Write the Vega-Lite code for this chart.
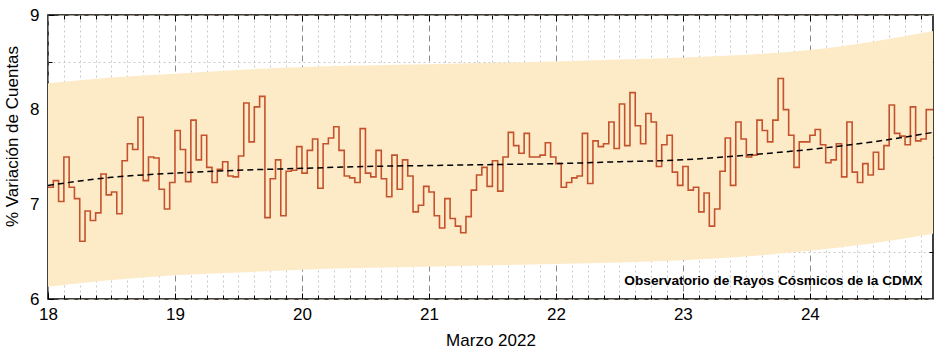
{
  "$schema": "https://vega.github.io/schema/vega-lite/v6.json",
  "width": 885,
  "height": 284,
  "autosize": "none",
  "padding": {"left": 48, "top": 15, "right": 6, "bottom": 53},
  "background": "white",
  "config": {
    "view": {"stroke": "black", "strokeWidth": 1.5},
    "axis": {
      "labelFont": "Liberation Sans",
      "titleFont": "Liberation Sans",
      "labelColor": "black",
      "titleColor": "black",
      "labelFontSize": 17,
      "titleFontSize": 17,
      "titleFontWeight": "normal",
      "domain": false,
      "tickColor": "black",
      "zindex": 1
    }
  },
  "datasets": {
    "band": [
      {"t": 18.0, "lo": 6.13, "hi": 8.28},
      {"t": 18.5, "lo": 6.2, "hi": 8.34},
      {"t": 19.0, "lo": 6.25, "hi": 8.38},
      {"t": 19.5, "lo": 6.28, "hi": 8.42},
      {"t": 20.0, "lo": 6.31, "hi": 8.45},
      {"t": 21.0, "lo": 6.34, "hi": 8.48},
      {"t": 22.0, "lo": 6.37, "hi": 8.51},
      {"t": 23.0, "lo": 6.41, "hi": 8.55},
      {"t": 23.5, "lo": 6.45, "hi": 8.58},
      {"t": 24.0, "lo": 6.51, "hi": 8.63},
      {"t": 24.5, "lo": 6.59, "hi": 8.72},
      {"t": 24.97, "lo": 6.69, "hi": 8.83}
    ],
    "trend": [
      {"t": 18.0, "v": 7.2},
      {"t": 18.5, "v": 7.285},
      {"t": 19.0, "v": 7.33},
      {"t": 19.5, "v": 7.36},
      {"t": 20.0, "v": 7.38},
      {"t": 20.5, "v": 7.4},
      {"t": 21.0, "v": 7.41},
      {"t": 21.5, "v": 7.42},
      {"t": 22.0, "v": 7.43},
      {"t": 22.5, "v": 7.45},
      {"t": 23.0, "v": 7.47},
      {"t": 23.5, "v": 7.52},
      {"t": 24.0, "v": 7.58},
      {"t": 24.5, "v": 7.66},
      {"t": 24.97, "v": 7.76}
    ],
    "series": [
      {"t": 18.0, "v": 7.18}, {"t": 18.0417, "v": 7.25}, {"t": 18.0833, "v": 7.03}, {"t": 18.125, "v": 7.5},
      {"t": 18.1667, "v": 7.18}, {"t": 18.2083, "v": 7.06}, {"t": 18.25, "v": 6.61}, {"t": 18.2917, "v": 6.93},
      {"t": 18.3333, "v": 6.83}, {"t": 18.375, "v": 6.91}, {"t": 18.4167, "v": 7.32}, {"t": 18.4583, "v": 7.1},
      {"t": 18.5, "v": 7.13}, {"t": 18.5417, "v": 6.9}, {"t": 18.5833, "v": 7.46}, {"t": 18.625, "v": 7.64},
      {"t": 18.6667, "v": 7.58}, {"t": 18.7083, "v": 7.92}, {"t": 18.75, "v": 7.25}, {"t": 18.7917, "v": 7.5},
      {"t": 18.8333, "v": 7.49}, {"t": 18.875, "v": 7.16}, {"t": 18.9167, "v": 6.95}, {"t": 18.9583, "v": 7.23},
      {"t": 19.0, "v": 7.78}, {"t": 19.0417, "v": 7.58}, {"t": 19.0833, "v": 7.24}, {"t": 19.125, "v": 7.89},
      {"t": 19.1667, "v": 7.47}, {"t": 19.2083, "v": 7.73}, {"t": 19.25, "v": 7.39}, {"t": 19.2917, "v": 7.23},
      {"t": 19.3333, "v": 7.37}, {"t": 19.375, "v": 7.45}, {"t": 19.4167, "v": 7.3}, {"t": 19.4583, "v": 7.29},
      {"t": 19.5, "v": 7.51}, {"t": 19.5417, "v": 8.07}, {"t": 19.5833, "v": 7.66}, {"t": 19.625, "v": 8.03},
      {"t": 19.6667, "v": 8.14}, {"t": 19.7083, "v": 6.86}, {"t": 19.75, "v": 7.27}, {"t": 19.7917, "v": 7.47},
      {"t": 19.8333, "v": 6.88}, {"t": 19.875, "v": 7.35}, {"t": 19.9167, "v": 7.36}, {"t": 19.9583, "v": 7.61},
      {"t": 20.0, "v": 7.33}, {"t": 20.0417, "v": 7.57}, {"t": 20.0833, "v": 7.69}, {"t": 20.125, "v": 7.17},
      {"t": 20.1667, "v": 7.64}, {"t": 20.2083, "v": 7.7}, {"t": 20.25, "v": 7.82}, {"t": 20.2917, "v": 7.57},
      {"t": 20.3333, "v": 7.3}, {"t": 20.375, "v": 7.28}, {"t": 20.4167, "v": 7.23}, {"t": 20.4583, "v": 7.8},
      {"t": 20.5, "v": 7.33}, {"t": 20.5417, "v": 7.29}, {"t": 20.5833, "v": 7.57}, {"t": 20.625, "v": 7.27},
      {"t": 20.6667, "v": 7.08}, {"t": 20.7083, "v": 7.52}, {"t": 20.75, "v": 7.16}, {"t": 20.7917, "v": 7.47},
      {"t": 20.8333, "v": 7.3}, {"t": 20.875, "v": 6.92}, {"t": 20.9167, "v": 6.99}, {"t": 20.9583, "v": 7.19},
      {"t": 21.0, "v": 7.13}, {"t": 21.0417, "v": 6.88}, {"t": 21.0833, "v": 6.75}, {"t": 21.125, "v": 7.06},
      {"t": 21.1667, "v": 6.85}, {"t": 21.2083, "v": 6.77}, {"t": 21.25, "v": 6.7}, {"t": 21.2917, "v": 6.87},
      {"t": 21.3333, "v": 7.15}, {"t": 21.375, "v": 7.31}, {"t": 21.4167, "v": 7.39}, {"t": 21.4583, "v": 7.19},
      {"t": 21.5, "v": 7.46}, {"t": 21.5417, "v": 7.14}, {"t": 21.5833, "v": 7.5}, {"t": 21.625, "v": 7.76},
      {"t": 21.6667, "v": 7.62}, {"t": 21.7083, "v": 7.54}, {"t": 21.75, "v": 7.75}, {"t": 21.7917, "v": 7.5},
      {"t": 21.8333, "v": 7.5}, {"t": 21.875, "v": 7.52}, {"t": 21.9167, "v": 7.65}, {"t": 21.9583, "v": 7.5},
      {"t": 22.0, "v": 7.43}, {"t": 22.0417, "v": 7.18}, {"t": 22.0833, "v": 7.23}, {"t": 22.125, "v": 7.28},
      {"t": 22.1667, "v": 7.3}, {"t": 22.2083, "v": 7.75}, {"t": 22.25, "v": 7.22}, {"t": 22.2917, "v": 7.67},
      {"t": 22.3333, "v": 7.61}, {"t": 22.375, "v": 7.64}, {"t": 22.4167, "v": 7.87}, {"t": 22.4583, "v": 7.59},
      {"t": 22.5, "v": 8.06}, {"t": 22.5417, "v": 7.62}, {"t": 22.5833, "v": 8.18}, {"t": 22.625, "v": 7.83},
      {"t": 22.6667, "v": 7.64}, {"t": 22.7083, "v": 7.96}, {"t": 22.75, "v": 7.87}, {"t": 22.7917, "v": 7.4},
      {"t": 22.8333, "v": 7.63}, {"t": 22.875, "v": 7.73}, {"t": 22.9167, "v": 7.34}, {"t": 22.9583, "v": 7.2},
      {"t": 23.0, "v": 7.4}, {"t": 23.0417, "v": 7.15}, {"t": 23.0833, "v": 7.18}, {"t": 23.125, "v": 6.92},
      {"t": 23.1667, "v": 7.12}, {"t": 23.2083, "v": 6.77}, {"t": 23.25, "v": 6.95}, {"t": 23.2917, "v": 7.35},
      {"t": 23.3333, "v": 7.7}, {"t": 23.375, "v": 7.2}, {"t": 23.4167, "v": 7.87}, {"t": 23.4583, "v": 7.69},
      {"t": 23.5, "v": 7.5}, {"t": 23.5417, "v": 7.52}, {"t": 23.5833, "v": 7.89}, {"t": 23.625, "v": 7.78},
      {"t": 23.6667, "v": 7.66}, {"t": 23.7083, "v": 7.89}, {"t": 23.75, "v": 8.33}, {"t": 23.7917, "v": 8.0},
      {"t": 23.8333, "v": 7.73}, {"t": 23.875, "v": 7.39}, {"t": 23.9167, "v": 7.66}, {"t": 23.9583, "v": 7.66},
      {"t": 24.0, "v": 7.73}, {"t": 24.0417, "v": 7.79}, {"t": 24.0833, "v": 7.63}, {"t": 24.125, "v": 7.44},
      {"t": 24.1667, "v": 7.47}, {"t": 24.2083, "v": 7.64}, {"t": 24.25, "v": 7.29}, {"t": 24.2917, "v": 7.87},
      {"t": 24.3333, "v": 7.34}, {"t": 24.375, "v": 7.23}, {"t": 24.4167, "v": 7.43}, {"t": 24.4583, "v": 7.31},
      {"t": 24.5, "v": 7.55}, {"t": 24.5417, "v": 7.37}, {"t": 24.5833, "v": 7.62}, {"t": 24.625, "v": 8.05},
      {"t": 24.6667, "v": 7.75}, {"t": 24.7083, "v": 7.72}, {"t": 24.75, "v": 7.63}, {"t": 24.7917, "v": 8.03},
      {"t": 24.8333, "v": 7.67}, {"t": 24.875, "v": 7.69}, {"t": 24.9167, "v": 8.0}, {"t": 24.97, "v": 8.0}
    ],
    "note": [{"label": "Observatorio de Rayos Cósmicos de la CDMX"}]
  },
  "layer": [
    {
      "data": {"name": "band"},
      "mark": {"type": "area", "color": "#fdebc8", "opacity": 1, "interpolate": "monotone"},
      "encoding": {
        "x": {
          "field": "t", "type": "quantitative",
          "scale": {"domain": [18, 24.97], "nice": false, "zero": false},
          "axis": {
            "orient": "bottom", "values": [18, 19, 20, 21, 22, 23, 24], "format": "d",
            "title": "Marzo 2022", "titlePadding": 10,
            "grid": true, "gridDash": [6, 4], "gridColor": "#8a8a8a", "gridWidth": 1,
            "tickSize": -6, "tickWidth": 1, "labelPadding": 13, "labelFlush": false
          }
        },
        "y": {
          "field": "lo", "type": "quantitative",
          "scale": {"domain": [6, 9], "nice": false, "zero": false},
          "axis": {
            "orient": "left", "values": [6, 7, 8, 9], "format": "d",
            "title": "% Variación de Cuentas", "titlePadding": 8, "titleY": 121,
            "grid": true, "gridDash": [6, 4], "gridColor": "#a89f90", "gridWidth": 1,
            "tickSize": -6, "tickWidth": 1, "labelPadding": 15, "labelFlush": false
          }
        },
        "y2": {"field": "hi"}
      }
    },
    {
      "data": {"name": "series"},
      "mark": {"type": "line", "interpolate": "step-after", "color": "#c4532d", "strokeWidth": 1.6},
      "encoding": {
        "x": {
          "field": "t", "type": "quantitative",
          "axis": {
            "orient": "bottom", "labels": false, "title": null,
            "values": [18.125, 18.25, 18.375, 18.5, 18.625, 18.75, 18.875, 19.125, 19.25, 19.375, 19.5, 19.625, 19.75, 19.875, 20.125, 20.25, 20.375, 20.5, 20.625, 20.75, 20.875, 21.125, 21.25, 21.375, 21.5, 21.625, 21.75, 21.875, 22.125, 22.25, 22.375, 22.5, 22.625, 22.75, 22.875, 23.125, 23.25, 23.375, 23.5, 23.625, 23.75, 23.875, 24.125, 24.25, 24.375, 24.5, 24.625, 24.75, 24.875],
            "grid": true, "gridDash": [2, 3], "gridColor": "#c8c8c8", "gridWidth": 1,
            "tickSize": -4, "tickWidth": 1
          }
        },
        "y": {
          "field": "v", "type": "quantitative",
          "axis": {
            "orient": "left", "labels": false, "title": null,
            "values": [6.5, 7.5, 8.5],
            "grid": true, "gridDash": [2, 3], "gridColor": "#c8c8c8", "gridWidth": 1,
            "tickSize": -4, "tickWidth": 1
          }
        }
      }
    },
    {
      "data": {"name": "trend"},
      "mark": {"type": "line", "interpolate": "monotone", "color": "black", "strokeWidth": 1.5, "strokeDash": [6, 4]},
      "encoding": {
        "x": {
          "field": "t", "type": "quantitative",
          "axis": {"orient": "top", "labels": false, "title": null, "grid": false, "values": [19, 20, 21, 22, 23, 24], "tickSize": -6, "tickWidth": 1}
        },
        "y": {
          "field": "v", "type": "quantitative",
          "axis": {"orient": "right", "labels": false, "title": null, "grid": false, "values": [7, 8], "tickSize": -6, "tickWidth": 1}
        }
      }
    },
    {
      "data": {"name": "note"},
      "mark": {"type": "text", "align": "right", "baseline": "alphabetic", "font": "Liberation Sans", "fontWeight": "bold", "fontSize": 13.7, "color": "black"},
      "encoding": {
        "text": {"field": "label"},
        "x": {
          "datum": 24.887, "type": "quantitative",
          "axis": {"orient": "top", "labels": false, "title": null, "grid": false,
            "values": [18.125, 18.25, 18.375, 18.5, 18.625, 18.75, 18.875, 19.125, 19.25, 19.375, 19.5, 19.625, 19.75, 19.875, 20.125, 20.25, 20.375, 20.5, 20.625, 20.75, 20.875, 21.125, 21.25, 21.375, 21.5, 21.625, 21.75, 21.875, 22.125, 22.25, 22.375, 22.5, 22.625, 22.75, 22.875, 23.125, 23.25, 23.375, 23.5, 23.625, 23.75, 23.875, 24.125, 24.25, 24.375, 24.5, 24.625, 24.75, 24.875],
            "tickSize": -4, "tickWidth": 1}
        },
        "y": {
          "datum": 6.15, "type": "quantitative",
          "axis": {"orient": "right", "labels": false, "title": null, "grid": false, "values": [6.5, 7.5, 8.5], "tickSize": -4, "tickWidth": 1}
        }
      }
    }
  ],
  "resolve": {"axis": {"x": "independent", "y": "independent"}}
}
